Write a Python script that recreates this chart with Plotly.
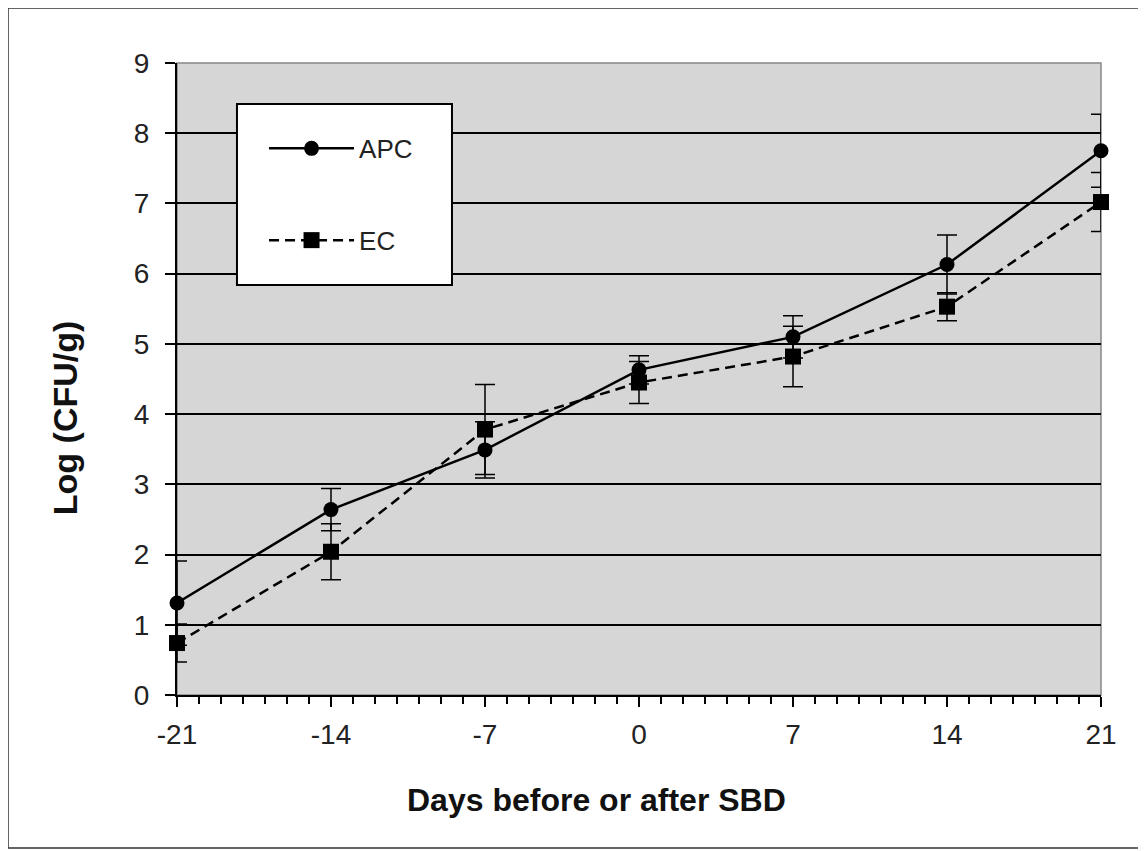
import plotly.graph_objects as go

days = [-21, -14, -7, 0, 7, 14, 21]
apc = [1.31, 2.64, 3.49, 4.63, 5.10, 6.13, 7.75]
apc_err = [0.60, 0.30, 0.40, 0.20, 0.30, 0.42, 0.52]
ec = [0.74, 2.04, 3.78, 4.45, 4.82, 5.53, 7.02]
ec_err = [0.27, 0.40, 0.64, 0.30, 0.43, 0.20, 0.42]
x_ticks = [-21, -14, -7, 0, 7, 14, 21]
y_ticks = list(range(0, 10))
x_title = "Days before or after SBD"
y_title = "Log (CFU/g)"

FONT = "Liberation Sans, Arial, sans-serif"

fig = go.Figure()
fig.add_trace(go.Scatter(
    x=days, y=apc, name="APC", mode="lines+markers",
    line=dict(color="black", width=2.5),
    marker=dict(symbol="circle", size=15, color="black"),
    error_y=dict(type="data", array=apc_err, color="black", thickness=1.5, width=10),
    cliponaxis=False, legendgroup="a",
))
fig.add_trace(go.Scatter(
    x=days, y=ec, name="EC", mode="lines+markers",
    line=dict(color="black", width=2.5, dash="10px,6px"),
    marker=dict(symbol="square", size=16, color="black"),
    error_y=dict(type="data", array=ec_err, color="black", thickness=1.5, width=10),
    cliponaxis=False, legendgroup="b",
))

fig.update_layout(
    width=1138, height=843,
    margin=dict(l=169, r=45, t=55, b=156),
    paper_bgcolor="white",
    plot_bgcolor="#d6d6d6",
    font=dict(family=FONT, size=28, color="#222"),
    showlegend=True,
    legend=dict(
        x=0.0942, y=0.902, xanchor="left", yanchor="top",
        bgcolor="rgba(0,0,0,0)", borderwidth=0,
        font=dict(size=26, family=FONT, color="#222"),
        tracegroupgap=55, itemwidth=85,
    ),
    xaxis=dict(
        range=[-21, 21], tickvals=x_ticks, ticktext=[str(v) for v in x_ticks],
        showgrid=False, zeroline=False,
        showline=True, linecolor="black", linewidth=2,
        ticks="outside", ticklen=10, tickwidth=2, tickcolor="black",
        minor=dict(dtick=1, tick0=0, ticks="outside", ticklen=7, tickwidth=1.5, tickcolor="black", showgrid=False),
        tickfont=dict(size=28, family=FONT, color="#222"),
        ticklabelstandoff=3,
    ),
    yaxis=dict(
        range=[0, 9], tickvals=y_ticks,
        showgrid=True, gridcolor="black", gridwidth=2,
        zeroline=False,
        showline=True, linecolor="black", linewidth=2,
        ticks="outside", ticklen=10, tickwidth=2, tickcolor="black",
        tickfont=dict(size=28, family=FONT, color="#222"),
        ticklabelstandoff=10,
    ),
    annotations=[
        dict(text="<b>" + x_title + "</b>", xref="paper", yref="paper", x=0.4545, y=-0.166,
             xanchor="center", yanchor="middle", showarrow=False,
             font=dict(size=32, family=FONT, color="#111")),
        dict(text="<b>" + y_title + "</b>", xref="paper", yref="paper", x=-0.1212, y=0.438,
             xanchor="center", yanchor="middle", showarrow=False, textangle=-90,
             font=dict(size=34, family=FONT, color="#111")),
    ],
    shapes=[
        dict(type="rect", xref="paper", yref="paper", x0=0, x1=1, y0=0, y1=1,
             line=dict(color="#888", width=1.5), layer="below"),
        dict(type="rect", xref="paper", yref="paper", x0=-0.1829, x1=1.0433, y0=-0.242, y1=1.087,
             line=dict(color="#333", width=1.5), layer="below"),
        dict(type="rect", xref="paper", yref="paper", x0=0.0649, x1=0.2976, y0=0.6487, y1=0.9351,
             line=dict(color="black", width=2), fillcolor="white", layer="above"),
    ],
)

fig.write_html("out.html")
